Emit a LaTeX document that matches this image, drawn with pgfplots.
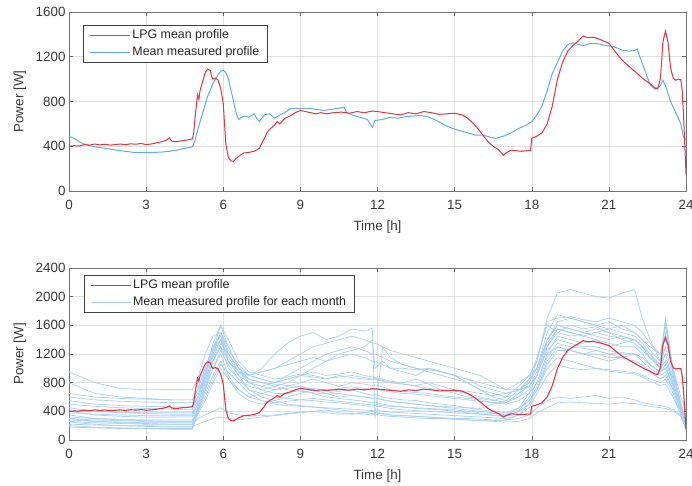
\documentclass[border=0pt]{standalone}
\usepackage{fontspec}
\setmainfont{Liberation Sans}
\usepackage{pgfplots}
\usepackage{pgfplotstable}
\pgfplotsset{compat=1.18}
\definecolor{lpgred}{RGB}{228,52,62}
\definecolor{measblue}{RGB}{92,176,228}
\definecolor{monthblue}{RGB}{168,207,245}
\newcommand\ff{\fontsize{12.4}{14.5}\selectfont}
\newcommand\tf{\fontsize{13.4}{15.5}\selectfont}

\pgfplotstableread{
t v
0 400
0.2 405
0.4 402
0.6 415
0.8 410
1.0 420
1.2 412
1.4 418
1.6 410
1.8 415
2.0 420
2.2 413
2.4 422
2.6 418
2.8 425
3.0 415
3.2 420
3.4 430
3.6 440
3.8 455
3.9 475
4.0 445
4.2 440
4.4 450
4.6 455
4.8 465
4.85 520
4.9 650
5.0 860
5.05 820
5.1 900
5.2 980
5.3 1060
5.4 1090
5.5 1075
5.55 1020
5.6 1000
5.7 1010
5.8 990
5.9 920
6.0 780
6.05 600
6.1 420
6.2 300
6.3 270
6.4 265
6.5 290
6.6 310
6.8 340
7.0 345
7.2 355
7.4 380
7.6 470
7.7 520
7.8 550
8.0 590
8.1 620
8.2 600
8.4 650
8.6 670
8.8 700
9.0 720
9.2 710
9.4 700
9.6 690
9.8 700
10.0 690
10.3 700
10.6 705
10.9 695
11.2 710
11.5 700
11.8 715
12.0 710
12.3 700
12.6 690
12.9 680
13.2 700
13.5 690
13.8 710
14.1 700
14.4 685
14.7 690
15.0 695
15.3 680
15.5 650
15.7 610
15.9 560
16.1 500
16.3 440
16.5 400
16.7 370
16.9 320
17.0 340
17.2 365
17.4 360
17.6 355
17.8 360
17.95 360
18.0 470
18.2 490
18.4 520
18.6 600
18.8 760
19.0 1000
19.2 1150
19.4 1250
19.6 1300
19.8 1340
20.0 1385
20.2 1370
20.4 1375
20.6 1360
20.8 1340
21.0 1320
21.2 1260
21.4 1200
21.6 1150
21.8 1110
22.0 1070
22.2 1030
22.4 990
22.6 960
22.8 920
22.9 915
23.0 1000
23.05 1150
23.1 1330
23.2 1430
23.3 1330
23.4 1100
23.5 1010
23.6 990
23.7 1000
23.8 995
23.85 900
23.9 700
24.0 150
}\lpg

\pgfplotstableread{
t v
0 490
0.2 470
0.4 440
0.6 420
0.8 405
1.0 395
1.3 385
1.6 375
2.0 360
2.3 352
2.6 342
3.0 345
3.3 345
3.6 348
3.9 355
4.2 365
4.5 380
4.8 395
4.9 450
5.0 540
5.2 700
5.4 850
5.6 960
5.8 1040
5.9 1070
6.0 1080
6.1 1060
6.2 1000
6.3 900
6.4 800
6.5 700
6.6 640
6.8 670
7.0 660
7.2 690
7.3 650
7.4 620
7.6 680
7.8 690
8.0 650
8.2 680
8.4 700
8.6 735
8.8 740
9.0 735
9.3 740
9.6 730
9.9 720
10.2 730
10.5 740
10.7 750
10.8 700
11.0 680
11.3 660
11.6 640
11.8 570
11.9 630
12.2 640
12.5 660
12.8 650
13.1 665
13.4 670
13.7 675
14.0 660
14.3 630
14.6 590
14.9 560
15.2 540
15.5 520
15.8 500
16.1 500
16.4 480
16.6 470
16.9 490
17.2 520
17.5 560
17.8 590
18.0 620
18.2 680
18.4 760
18.6 900
18.8 1050
19.0 1150
19.2 1250
19.4 1310
19.6 1325
19.8 1310
20.0 1300
20.3 1320
20.6 1315
20.9 1300
21.2 1290
21.5 1260
21.8 1250
22.0 1255
22.1 1270
22.2 1200
22.4 1080
22.6 950
22.8 910
23.0 940
23.1 990
23.2 940
23.4 800
23.6 700
23.8 600
23.9 480
24.0 460
}\meas

\pgfplotstableread[header=false]{
t 0 1 2 3 4 4.8 5.0 5.3 5.6 5.9 6.2 6.6 7.0 7.5 8 8.5 9 9.5 10 10.5 11 11.5 11.8 11.9 12.2 12.5 13 13.5 14 14.5 15 15.5 16 16.5 17 17.5 17.9 18.2 18.6 19 19.5 20 20.5 21 21.5 22 22.3 22.6 23 23.2 23.5 23.8 24
A 950 800 720 700 700 700 850 1200 1450 1500 1200 1000 900 850 800 850 900 880 850 900 870 850 840 850 820 800 780 760 800 750 700 680 650 620 650 700 750 900 1300 1500 1600 1550 1580 1500 1450 1400 1300 1150 1050 1200 800 500 300
B 800 650 600 580 560 560 700 1000 1300 1450 1100 900 800 750 800 850 900 950 900 920 950 900 880 870 850 820 800 850 780 700 650 600 580 550 600 750 900 1100 1700 2050 2100 2050 2000 1980 2050 2100 1700 1400 1100 1500 900 500 250
C 550 500 480 470 460 460 600 900 1200 1400 1100 950 900 1000 1200 1350 1450 1500 1400 1450 1550 1520 1560 300 1300 1150 1050 1000 980 950 900 850 800 750 700 800 900 1000 1400 1650 1700 1650 1600 1650 1550 1500 1400 1300 1200 1400 1000 600 400
D 450 400 380 370 360 360 500 800 1100 1300 1000 850 750 700 750 800 900 1000 1100 1200 1250 1300 1400 1000 1100 1000 950 900 1000 950 900 800 700 600 550 600 700 900 1300 1550 1500 1450 1500 1550 1500 1450 1350 1200 1000 1650 900 500 250
E 400 350 330 320 320 320 450 700 1000 1200 900 700 600 650 700 750 800 850 800 750 800 780 760 770 740 700 680 660 650 620 600 580 560 520 500 550 650 800 1200 1450 1400 1350 1400 1300 1350 1400 1300 1150 1000 1100 800 450 200
F 350 300 280 270 260 260 400 650 900 1100 850 650 550 500 550 600 650 700 650 680 700 650 620 640 600 580 560 550 520 500 480 450 420 400 380 450 550 700 1100 1300 1250 1200 1250 1200 1150 1200 1100 1000 900 950 700 400 180
G 300 260 240 230 220 220 300 350 400 450 380 350 330 340 350 370 390 400 380 360 370 360 350 360 340 330 320 310 300 300 290 280 270 270 280 300 350 450 550 600 580 600 620 580 600 560 520 500 480 470 420 350 200
H 250 220 200 190 180 180 220 260 300 320 300 280 300 320 340 360 380 400 420 380 360 380 400 390 370 350 340 330 320 300 290 280 270 260 250 260 300 380 450 520 530 520 510 500 520 510 490 470 450 440 400 330 150
I 200 180 170 160 160 160 400 800 1200 1500 1300 1000 800 700 650 650 700 650 600 580 560 540 520 530 500 480 460 440 430 420 400 380 360 340 330 400 600 800 1200 1300 1250 1200 1150 1100 1150 1100 1050 950 850 900 700 400 200
J 180 170 160 160 150 150 350 700 1100 1350 1200 950 800 750 700 720 750 700 650 600 620 600 580 590 560 540 520 500 480 460 440 420 400 380 350 450 650 900 1400 1600 1550 1500 1450 1400 1450 1400 1300 1150 1000 1100 800 400 180
K 500 470 450 440 430 430 600 950 1250 1600 1300 1000 850 800 750 700 680 660 640 650 620 600 580 590 560 540 520 500 480 470 460 450 440 500 550 700 850 1000 1500 1750 1700 1650 1600 1550 1600 1500 1400 1250 1100 1700 1000 500 300
L 300 280 270 260 260 260 400 700 1000 1250 1050 850 700 650 600 580 560 550 530 520 500 480 470 480 460 440 420 410 400 390 380 370 360 350 340 400 500 700 1000 1150 1100 1050 1000 980 960 940 900 850 800 850 650 350 150
M 650 600 580 570 560 560 700 1000 1300 1450 1200 1000 900 950 1000 1050 1100 1150 1100 1150 1200 1150 1100 1100 1050 1000 1000 980 1000 950 900 850 750 700 650 700 800 1000 1400 1600 1550 1500 1550 1500 1400 1350 1250 1150 1000 1200 800 400 200
N 380 360 350 340 340 340 500 850 1150 1400 1100 900 700 600 550 500 480 460 440 420 400 380 370 380 360 350 340 330 320 310 300 300 290 280 280 350 500 700 1050 1250 1250 1200 1200 1150 1150 1100 1050 950 850 900 700 400 200
O 420 400 390 380 380 380 550 900 1250 1500 1250 1050 900 850 800 900 1000 1100 1200 1250 1300 1250 1200 1200 1150 1100 1050 1000 950 900 850 800 700 650 600 650 750 950 1350 1550 1500 1450 1400 1350 1300 1300 1200 1050 950 1000 750 400 200
P 220 210 200 200 190 190 450 900 1350 1600 1400 1100 950 900 850 880 920 900 860 880 900 870 850 860 830 800 780 750 720 700 680 650 600 560 520 600 800 1100 1650 1700 1720 1680 1650 1700 1650 1600 1500 1350 1200 1600 950 500 200
Q 280 260 250 240 240 240 380 600 850 1050 950 800 650 550 500 480 470 460 450 440 430 420 410 420 400 390 380 370 360 350 340 330 320 310 300 350 450 650 900 1050 1000 980 1000 960 940 920 880 820 760 780 600 350 150
R 600 560 540 530 520 520 650 950 1250 1400 1150 950 850 800 780 760 740 720 700 720 740 720 700 710 690 670 650 640 620 600 580 560 540 520 520 650 850 1150 1600 1500 1450 1480 1500 1450 1420 1400 1300 1200 1050 1300 850 450 220
S 320 300 290 280 280 280 420 750 1100 1300 1100 950 900 950 1000 1100 1200 1300 1350 1400 1450 1400 1350 1350 1300 1250 1200 1150 1100 1050 1000 950 900 800 700 700 750 900 1250 1400 1350 1300 1300 1250 1200 1200 1150 1050 950 1000 750 400 200
T 260 240 230 220 220 220 350 550 800 1000 850 700 600 550 520 540 560 580 560 540 520 500 490 500 480 470 460 450 440 430 420 400 380 370 360 420 550 750 1150 1350 1300 1280 1250 1200 1220 1200 1150 1050 950 1050 750 420 180
}\rawmonthly
\pgfplotstabletranspose[colnames from=0]\monthly\rawmonthly

\pgfplotsset{myax/.style={
  scale only axis, width=617pt,
  xmin=0, xmax=24, xtick={0,3,...,24},
  grid=major, major grid style={draw=black!12, line width=0.5pt},
  axis line style={draw=black!55, line width=0.6pt},
  tick style={draw=black!60, line width=0.5pt},
  major tick length=4pt, tick align=inside,
  tick label style={font=\tf, text=black!78},
  /pgf/number format/assume math mode=true,
  /pgf/number format/1000 sep={},
  xticklabel style={yshift=-6pt},
  label style={font=\tf, text=black!78},
  xlabel={Time [h]}, ylabel={Power [W]},
  xlabel style={at={(axis description cs:0.5,0)}, anchor=center, yshift=-36pt},
  ylabel style={at={(axis description cs:-0.0794,0.5)}, anchor=center},
  legend cell align=left,
  legend image code/.code={\draw[##1] (0pt,0pt) -- (40pt,0pt);},
  legend style={anchor=north west, draw=black!75, line width=0.6pt, fill=white,
     font=\ff, text=black!85, inner xsep=6pt, inner ysep=2pt, row sep=1pt,
     nodes={inner sep=2pt, text height=9pt, text depth=3pt}},
}}

\begin{document}
\begin{tikzpicture}
\useasboundingbox (0,0) rectangle (692pt,486pt);
\begin{axis}[myax, at={(69pt,295pt)}, anchor=south west, height=179pt,
  ymin=0, ymax=1600, ytick={0,400,...,1600},
  legend style={at={(0.023,0.927)}}]
\addlegendimage{lpgred, line width=1pt}
\addlegendentry{LPG mean profile}
\addlegendimage{measblue, line width=1pt}
\addlegendentry{Mean measured profile}
\addplot[measblue, line width=1pt, forget plot] table[x=t,y=v]{\meas};
\addplot[lpgred, line width=1pt, forget plot] table[x=t,y=v]{\lpg};
\end{axis}
\begin{axis}[myax, at={(69pt,46pt)}, anchor=south west, height=172pt,
  ymin=0, ymax=2400, ytick={0,400,...,2400},
  legend style={at={(0.024,0.959)}}]
\addlegendimage{lpgred, line width=1pt}
\addlegendentry{LPG mean profile}
\addlegendimage{monthblue, line width=0.7pt}
\addlegendentry{Mean measured profile for each month}
\pgfplotsinvokeforeach{A,B,C,D,E,F,G,H,I,J,K,L,M,N,O,P,Q,R,S,T}{
  \addplot[monthblue, line width=0.7pt, forget plot] table[x=t,y=#1]{\monthly};
}
\addplot[lpgred, line width=1.1pt, forget plot] table[x=t,y=v]{\lpg};
\end{axis}
\end{tikzpicture}
\end{document}
